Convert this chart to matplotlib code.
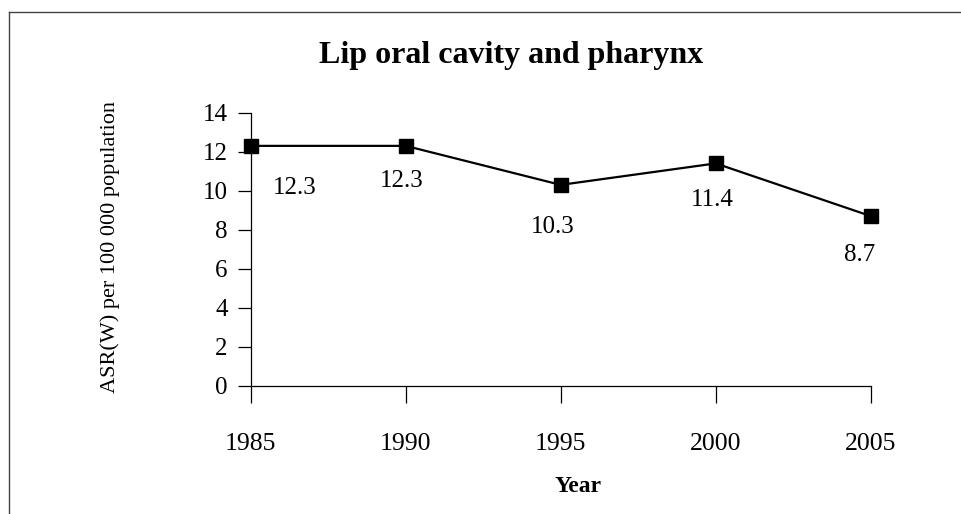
import matplotlib
matplotlib.use("Agg")
from matplotlib import pyplot as plt
from matplotlib.lines import Line2D

# Dados do grafico
anos = [1985, 1990, 1995, 2000, 2005]
asr_valores = [12.3, 12.3, 10.3, 11.4, 8.7]
rotulos = ["12.3", "12.3", "10.3", "11.4", "8.7"]
y_ticks = [0, 2, 4, 6, 8, 10, 12, 14]

# deslocamento dos rotulos (pixels) em relacao aos pontos
desloc_rotulos = [(44, -42), (-4, -35), (-8, -42), (-3, -37), (-11, -39)]

plt.rcParams["font.family"] = ["Liberation Serif", "DejaVu Serif"]

fig = plt.figure(figsize=(9.62, 5.14), dpi=100)
ax = fig.add_axes([0.2606, 0.2496, 0.6445, 0.5311])

ax.plot(anos, asr_valores, color="black", linewidth=1.6,
        marker="s", markersize=10, markerfacecolor="black",
        markeredgecolor="black", zorder=3, clip_on=False)

for x, y, txt, (dx, dy) in zip(anos, asr_valores, rotulos, desloc_rotulos):
    ax.annotate(txt, (x, y), xytext=(dx, dy), textcoords="offset pixels",
                ha="center", va="center", fontsize=18)

ax.set_xlim(anos[0], anos[-1])
ax.set_ylim(0, 14)
ax.set_xticks(anos)
ax.set_yticks(y_ticks)

for lado in ["top", "right"]:
    ax.spines[lado].set_visible(False)
for lado in ["left", "bottom"]:
    ax.spines[lado].set_linewidth(0.9)

ax.tick_params(axis="x", direction="out", length=12, width=0.9, pad=22,
               labelsize=18.5)
ax.tick_params(axis="y", direction="out", length=9.5, width=0.9, pad=7,
               labelsize=18)

fig.text(511 / 962, 1 - 55 / 514, "Lip oral cavity and pharynx",
         ha="center", va="center", fontsize=23, fontweight="bold")
fig.text(578 / 962, 1 - 491.5 / 514, "Year", ha="center", va="baseline",
         fontsize=17, fontweight="bold")
fig.text(110 / 962, 1 - 247 / 514, "ASR(W) per 100 000 population",
         ha="center", va="center", rotation=90, fontsize=16)

# moldura (so topo e esquerda visiveis)
fig.add_artist(Line2D([9 / 962, 9 / 962], [0, 1 - 11.5 / 514],
                      transform=fig.transFigure, color="#444444", linewidth=1))
fig.add_artist(Line2D([9 / 962, 1], [1 - 11.5 / 514, 1 - 11.5 / 514],
                      transform=fig.transFigure, color="#444444", linewidth=1))

fig.savefig("out.png", dpi=100)
